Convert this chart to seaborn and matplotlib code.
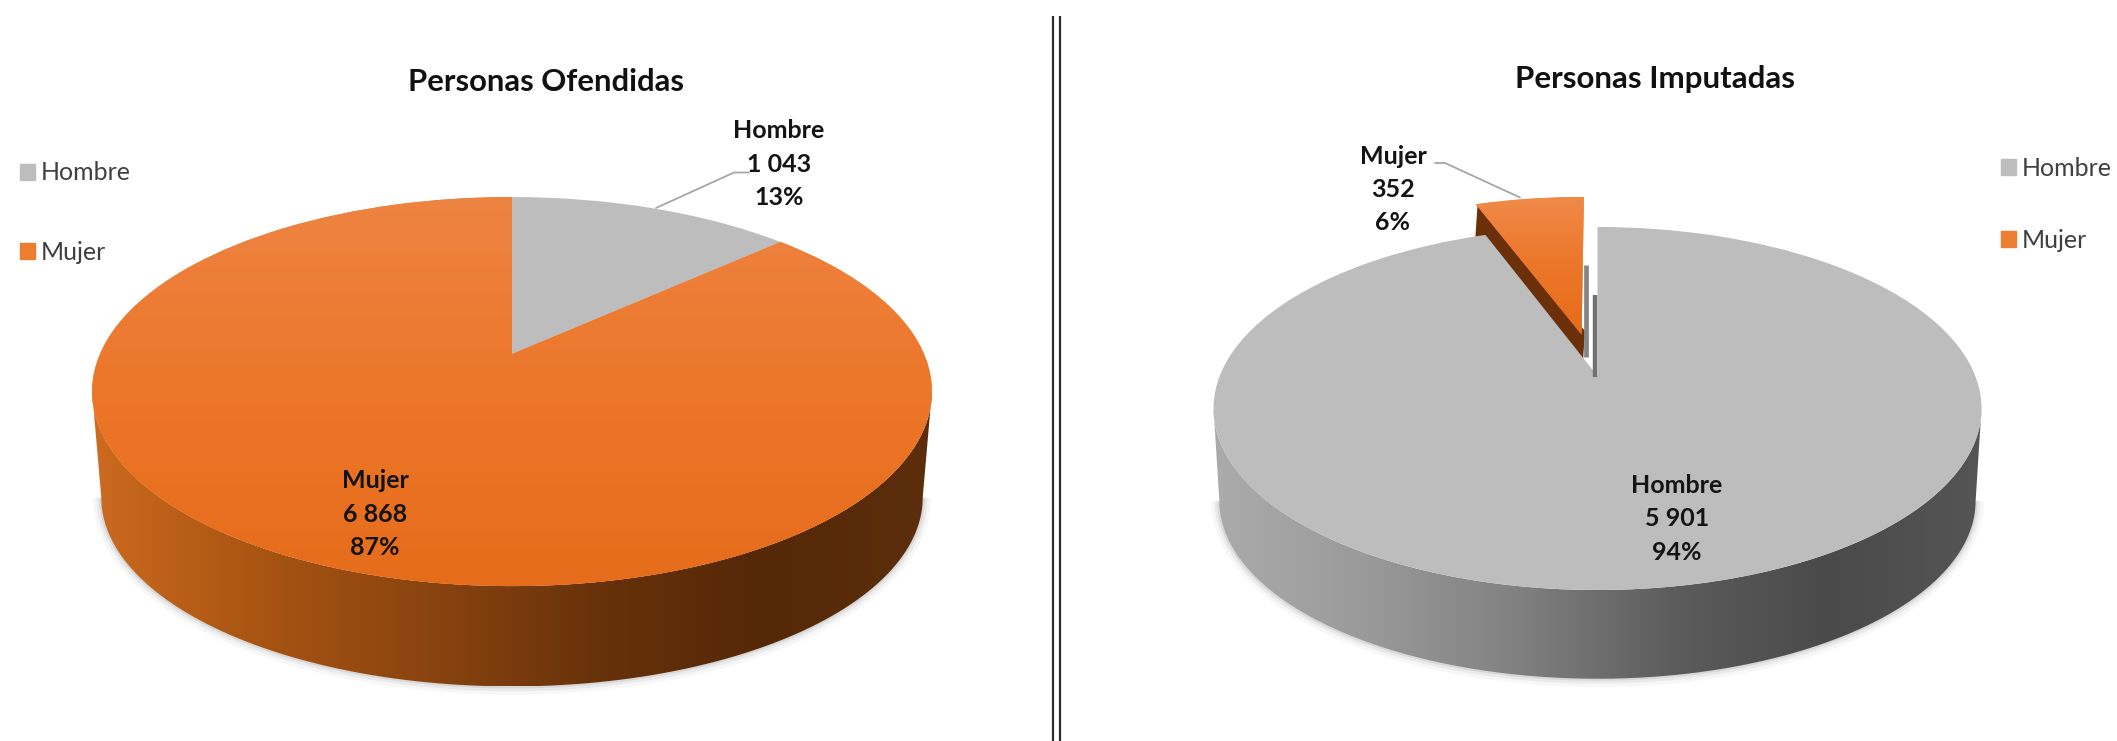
import numpy as np
import matplotlib
matplotlib.use("Agg")
import matplotlib.pyplot as plt
import seaborn as sns
from matplotlib.patches import Patch, Polygon
from matplotlib.transforms import Transform

categories = ["Hombre", "Mujer"]
ofendidas_values = [1043, 6868]
imputadas_values = [5901, 352]
ofendidas_title = "Personas Ofendidas"
imputadas_title = "Personas Imputadas"

WIDTH, HEIGHT = 2117, 741
GREY, ORANGE = "#BDBDBD", "#ED7D31"

sns.set_theme(style="white")
plt.rcParams["font.family"] = ["Lato", "DejaVu Sans"]


class TiltedDisc(Transform):
    # unit circle of ax.pie -> pixel position on a disc seen in perspective
    input_dims = output_dims = 2
    is_separable = False

    def __init__(self, cx, cy, a, b, k):
        super().__init__()
        self.cx, self.cy, self.a, self.b, self.k = cx, cy, a, b, k

    def transform_non_affine(self, xy):
        xy = np.asarray(xy, dtype=float)
        w = 1 + self.k * xy[:, 1]
        return np.column_stack([self.cx + self.a * xy[:, 0] / w, self.cy - self.b * xy[:, 1] / w])


def rim(disc, start, stop):
    theta = np.radians(np.linspace(start, stop, 120))
    return disc.transform_non_affine(np.column_stack([np.cos(theta), np.sin(theta)]))


def gradient(ax, stops, extent, clip, vertical=False):
    cmap = sns.blend_palette(stops, n_colors=256, as_cmap=True)
    ramp = np.linspace(0, 1, 256)
    ramp = ramp[:, None] if vertical else ramp[None, :]
    im = ax.imshow(ramp, cmap=cmap, extent=extent, aspect="auto", zorder=clip.get_zorder(), origin="upper")
    im.set_clip_path(clip)


def draw_pie(ax, values, top, bottom, wall_stops, explode=None):
    # side wall runs between the widest points of the two rims
    tilt = np.degrees(np.arcsin(top.k))
    lower = rim(bottom, 360 - tilt, 180 + tilt)
    outline = np.vstack([rim(top, 180 + tilt, 360 - tilt), lower])
    # soft shadow only along the bottom edge
    for lw, alpha in [(12, 0.03), (7, 0.05), (3, 0.08)]:
        ax.plot(lower[:, 0], lower[:, 1], color="black", lw=lw, alpha=alpha, zorder=1, solid_capstyle="butt")
    wall = Polygon(outline, closed=True, fc="none", ec="none", zorder=2)
    ax.add_patch(wall)
    x0, x1 = outline[:, 0].min(), outline[:, 0].max()
    y0, y1 = outline[:, 1].min(), outline[:, 1].max()
    gradient(ax, wall_stops, (x0, x1, y1, y0), wall)

    wedges, _ = ax.pie(values, colors=[GREY, ORANGE], startangle=90, counterclock=False, explode=explode)
    for wedge in wedges:
        wedge.set_transform(top + ax.transData)
        wedge.set_zorder(4)
        wedge.set_linewidth(0)
    return wedges


fig = plt.figure(figsize=(WIDTH / 100, HEIGHT / 100), dpi=100)
ax = fig.add_axes([0, 0, 1, 1])

# left pie
top_l = TiltedDisc(512, 354, 412, 187.3, 0.193)
low_l = TiltedDisc(512, 461, 403, 181.9, 0.193)
wedges_l = draw_pie(ax, ofendidas_values, top_l, low_l,
                    ["#CC6A20", "#A85412", "#8A4410", "#68320A", "#552808", "#5C2E0C"])
gradient(ax, ["#EE8443", "#EC7629", "#E56C1A"], (90, 935, 590, 195), wedges_l[1], vertical=True)

# right pie
top_r = TiltedDisc(1597.5, 376, 377.8, 175.7, 0.179)
low_r = TiltedDisc(1597.5, 469, 372, 172.2, 0.179)
wedges_r = draw_pie(ax, imputadas_values, top_r, low_r,
                    ["#ABABAB", "#9A9A9A", "#808080", "#5C5C5C", "#4A4A4A", "#555555"],
                    explode=[0, 0.25])
gradient(ax, ["#F08A4A", "#EC7629", "#E56C1A"], (1470, 1585, 335, 195), wedges_r[1], vertical=True)

# cut face of the pulled-out slice, hidden below by the grey top
cut_top = np.array([[1477.5, 205.5], [1585, 331]])
ax.add_patch(Polygon(np.vstack([cut_top, cut_top[::-1] + [-3, 45]]), closed=True, fc="#6B2F0A", ec="none", zorder=3))
ax.vlines(1585.5, 265, 357, color="#858585", lw=3.4, zorder=3)
ax.vlines(1595, 295, 377, color="#707070", lw=3.2, zorder=5)

ax.set_aspect("auto")
ax.set_xlim(0, WIDTH)
ax.set_ylim(HEIGHT, 0)
ax.axis("off")


def slice_label(name, value, total, x, y):
    pct = round(value / total * 100)
    count = f"{value:,}".replace(",", " ")
    ax.text(x, y, f"{name}\n{count}\n{pct}%", ha="center", va="center", fontsize=18,
            fontweight="bold", color="#141414", linespacing=1.53, zorder=6)


total_l, total_r = sum(ofendidas_values), sum(imputadas_values)
slice_label(categories[0], ofendidas_values[0], total_l, 779, 164)
slice_label(categories[1], ofendidas_values[1], total_l, 375, 514)
slice_label(categories[0], imputadas_values[0], total_r, 1677, 519)
slice_label(categories[1], imputadas_values[1], total_r, 1393, 189.5)

ax.text(546, 82, ofendidas_title, ha="center", va="center", fontsize=22.3, fontweight="bold", color="#111111")
ax.text(1655, 79, imputadas_title, ha="center", va="center", fontsize=22.5, fontweight="bold", color="#111111")

# leader lines
ax.plot([749, 734, 656], [172.5, 172.5, 208], color="#A6A6A6", lw=1.3, zorder=5)
ax.plot([1435, 1445, 1520], [163, 163, 197.5], color="#A6A6A6", lw=1.3, zorder=5)

# double divider
ax.vlines([1053, 1060], 16, HEIGHT, color="#2B2B2B", lw=1.6)

# legends
handles = [Patch(color=GREY), Patch(color=ORANGE)]
leg_kw = dict(frameon=False, fontsize=18, handlelength=0.6, handleheight=0.6, handletextpad=0.22,
              labelspacing=2.26, borderpad=0, borderaxespad=0, labelcolor="#404040",
              bbox_transform=ax.transData, loc="upper left")
left_legend = ax.legend(handles, categories, bbox_to_anchor=(20, 161.5), **leg_kw)
ax.add_artist(left_legend)
leg_kw["labelspacing"] = 1.96
ax.legend(handles, categories, bbox_to_anchor=(2001, 156.5), **leg_kw)

fig.savefig("out.png", dpi=100, facecolor="white")
